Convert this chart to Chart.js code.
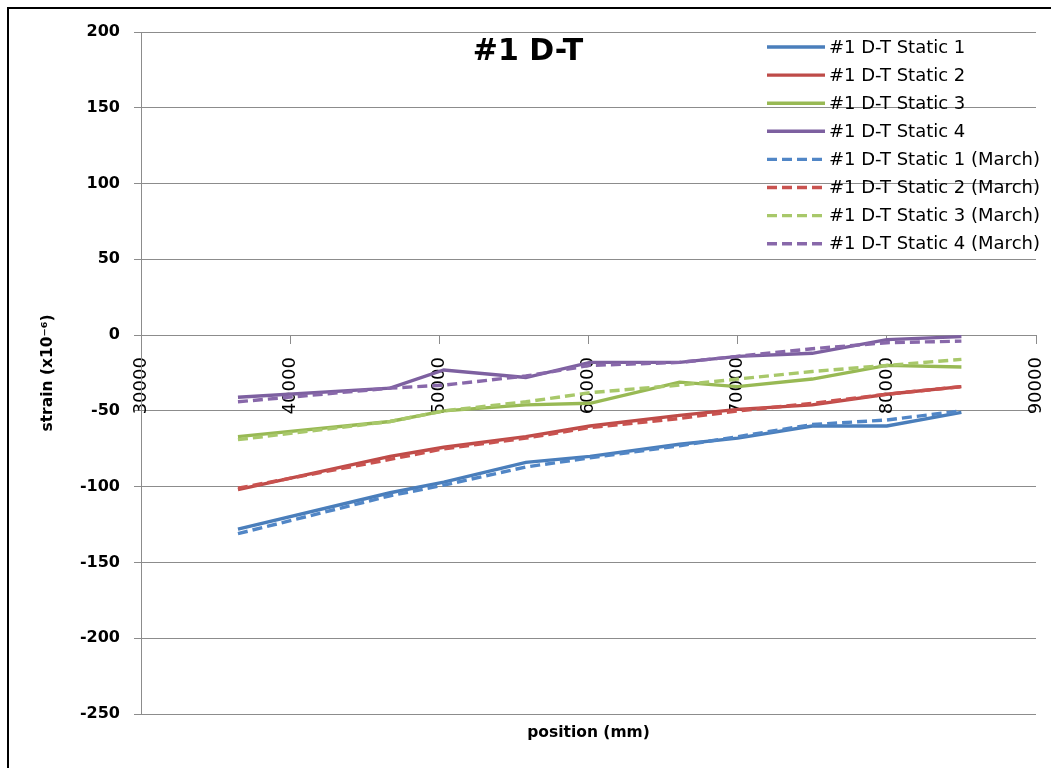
<!DOCTYPE html>
<html>
<head>
<meta charset="utf-8">
<title>#1 D-T</title>
<script src="https://cdn.jsdelivr.net/npm/chart.js@4.4.1/dist/chart.umd.min.js"></script>
<style>
  html, body { margin: 0; padding: 0; background: #fff; }
  #wrap { position: relative; width: 1051px; height: 768px; overflow: hidden; }
  #frame { position: absolute; left: 7px; top: 7px; width: 1060px; height: 780px;
           border-left: 2px solid #000; border-top: 2px solid #000; pointer-events: none; }
</style>
</head>
<body>
<div id="wrap">
  <canvas id="strainChart" width="1051" height="768"></canvas>
  <div id="frame"></div>
</div>
<script>
// positions along the member (mm)
const positions = [36500, 46700, 50300, 55800, 60100, 66100, 70000, 75000, 80000, 85000];

// strain readings (x10^-6)
const static1 = [-128, -104, -97, -84, -80, -72, -68, -60, -60, -51];
const static2 = [-102, -80, -74, -67, -60, -53, -49, -46, -39, -34];
const static3 = [-67, -57, -50, -46, -45, -31, -34, -29, -20, -21];
const static4 = [-41, -35, -23, -28, -18, -18, -14, -12, -3, -1];
const march1 = [-131, -106, -99, -87, -81, -73, -67, -59, -56, -50];
const march2 = [-101, -82, -75, -68, -61, -55, -50, -45, -39, -34];
const march3 = [-69, -57, -50, -44, -38, -33, -29, -24, -20, -16];
const march4 = [-44, -35, -33, -27, -20, -18, -14, -9, -5, -4];

const seriesNames = [
    '#1 D-T Static 1', '#1 D-T Static 2', '#1 D-T Static 3', '#1 D-T Static 4',
    '#1 D-T Static 1 (March)', '#1 D-T Static 2 (March)', '#1 D-T Static 3 (March)', '#1 D-T Static 4 (March)'
];
const chartTitle = '#1 D-T';
const xTitle = 'position (mm)';
const yTitle = 'strain (x10\u207B\u2076)';

const solidColors = ['#4A7EBB', '#BE4B48', '#98B954', '#7D60A0'];
const dashColors = ['#5186C6', '#C9524F', '#A8C86A', '#8868AA'];

function toPoints(values) {
    return values.map((v, i) => ({ x: positions[i], y: v }));
}

const allValues = [static1, static2, static3, static4, march1, march2, march3, march4];

const datasets = allValues.map((vals, i) => {
    const dashed = i >= 4;
    return {
        label: seriesNames[i],
        data: toPoints(vals),
        xAxisID: 'x',
        yAxisID: 'y',
        borderColor: dashed ? dashColors[i - 4] : solidColors[i],
        borderWidth: 3.4,
        borderDash: dashed ? [10, 5] : [],
        pointRadius: 0,
        tension: 0,
        fill: false,
        order: dashed ? 0 : 1
    };
});

// title + legend drawn inside the plot area, like the excel chart
const insideDecor = {
    id: 'insideDecor',
    afterDraw(chart) {
        const ctx = chart.ctx;
        ctx.save();
        ctx.fillStyle = '#000';
        ctx.textBaseline = 'middle';

        ctx.font = 'bold 30px "DejaVu Sans"';
        ctx.textAlign = 'center';
        ctx.fillText(chartTitle, 528, 52);

        ctx.font = '18px "DejaVu Sans"';
        ctx.textAlign = 'left';
        chart.data.datasets.forEach((ds, i) => {
            const y = 47 + i * 28.1;
            ctx.beginPath();
            ctx.strokeStyle = ds.borderColor;
            ctx.lineWidth = 3.4;
            ctx.setLineDash(ds.borderDash);
            ctx.moveTo(767, y);
            ctx.lineTo(825, y);
            ctx.stroke();
            ctx.setLineDash([]);
            ctx.fillText(ds.label, 829, y + 1);
        });
        ctx.restore();
    }
};

const ctx = document.getElementById('strainChart').getContext('2d');
const strainChart = new Chart(ctx, {
    type: 'line',
    data: { datasets: datasets },
    plugins: [insideDecor],
    options: {
        responsive: false,
        animation: false,
        layout: { padding: { left: 0, right: 15, top: 32, bottom: 0 } },
        plugins: {
            legend: { display: false },
            tooltip: { enabled: false }
        },
        scales: {
            x: {
                type: 'linear',
                position: { y: 0 },
                min: 30000,
                max: 90000,
                ticks: {
                    stepSize: 10000,
                    minRotation: 90,
                    maxRotation: 90,
                    padding: 14,
                    color: '#000',
                    font: { family: 'DejaVu Sans', size: 18 },
                    callback: (v) => String(v)
                },
                grid: { drawOnChartArea: false, drawTicks: true, tickLength: 8, color: '#8c8c8c' },
                border: { color: '#8c8c8c' },
                // rotated labels should not squeeze the plot from the right
                afterFit(scale) { scale.paddingLeft = 0; scale.paddingRight = 0; }
            },
            xt: {
                type: 'linear',
                position: 'bottom',
                min: 0,
                max: 1,
                ticks: { display: false },
                grid: { display: false, drawTicks: false },
                border: { display: false },
                title: {
                    display: true,
                    text: xTitle,
                    color: '#000',
                    font: { family: 'DejaVu Sans', size: 15.5, weight: 'bold' },
                    padding: { top: 9.7, bottom: 25.7 }
                }
            },
            y: {
                type: 'linear',
                position: 'left',
                min: -250,
                max: 200,
                ticks: {
                    stepSize: 50,
                    padding: 14,
                    color: '#000',
                    font: { family: 'DejaVu Sans', size: 16, weight: 'bold' }
                },
                grid: { color: '#8c8c8c', tickLength: 7, drawTicks: true },
                border: { color: '#8c8c8c' },
                title: {
                    display: true,
                    text: yTitle,
                    color: '#000',
                    font: { family: 'DejaVu Sans', size: 15.5, weight: 'bold' },
                    padding: { top: 38.7, bottom: 0 }
                },
                afterFit(scale) { scale.width = 141; }
            }
        }
    }
});
</script>
</body>
</html>
